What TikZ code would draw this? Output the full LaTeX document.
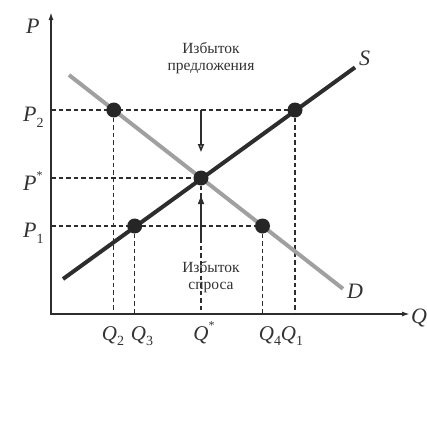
\documentclass[tikz,border=0pt]{standalone}
\usepackage{fontspec}
\setmainfont{Liberation Serif}
\usetikzlibrary{arrows.meta}
\definecolor{ink}{RGB}{45,45,45}
\definecolor{dcol}{RGB}{160,160,160}
\definecolor{dotcol}{RGB}{38,38,38}
\definecolor{txt}{RGB}{50,50,50}
\newcommand\lowidx[1]{\raisebox{-0.28em}{\fontsize{14}{14}\selectfont\upshape #1}}
\newcommand\highidx{\raisebox{0.5em}{\fontsize{12}{12}\selectfont\upshape *}}
\begin{document}
\begin{tikzpicture}[x=1pt,y=-1pt,
  axisline/.style={draw=ink,line width=1.8pt,line join=miter},
  guide/.style={draw=ink,line width=1.2pt,dash pattern=on 4.5pt off 3pt},
  curveS/.style={draw=ink,line width=4pt},
  curveD/.style={draw=dcol,line width=4pt},
  dotnode/.style={circle,fill=dotcol,minimum size=15pt,inner sep=0pt},
  lbl/.style={font=\fontsize{22}{22}\selectfont\itshape,text=txt,inner sep=0pt,anchor=base west},
  qlbl/.style={font=\fontsize{21}{21}\selectfont\itshape,text=txt,inner sep=0pt,anchor=base},
  note/.style={font=\fontsize{15.5}{17.5}\selectfont,align=center,text=txt,inner sep=0pt},
  shiftarrow/.style={draw=ink,line width=1.6pt,-{Triangle[open,length=8pt,width=6pt]}}]
\useasboundingbox (0,0) rectangle (427,440);
% key coordinates
\coordinate (O) at (51,314);
\coordinate (ytip) at (51,12);
\coordinate (xtip) at (410,314);
\coordinate (sA) at (63,279);
\coordinate (sB) at (355,67.4);
\coordinate (dA) at (69,75);
\coordinate (dB) at (343,288.8);
\coordinate (yP2) at (51,110);
\coordinate (yPe) at (51,178);
\coordinate (yP1) at (51,226);
\coordinate (xQ2) at (113.8,314);
\coordinate (xQ3) at (134.7,314);
\coordinate (xQe) at (201,314);
\coordinate (xQ4) at (262.5,314);
\coordinate (xQ1) at (295,314);
\coordinate (arrAstart) at (201,110);
\coordinate (arrAend) at (201,152);
\coordinate (arrBstart) at (201,241);
\coordinate (arrBend) at (201,196);
% dots (positions)
\path (113.8,110) coordinate (q2p) (295,110) coordinate (q1p)
      (134.7,226) coordinate (q3p) (262.5,226) coordinate (q4p)
      (201,178) coordinate (ep);
% guides
\draw[guide] (yP2) -- (q1p);
\draw[guide] (yPe) -- (ep);
\draw[guide] (yP1) -- (q4p);
\draw[guide] (q2p) -- (xQ2);
\draw[guide] (q3p) -- (xQ3);
\draw[guide] (ep) -- (xQe);
\draw[guide] (q4p) -- (xQ4);
\draw[guide] (q1p) -- (xQ1);
% axes
\draw[axisline,{Latex[length=8pt,width=5pt]}-{Latex[length=8pt,width=5pt]}] (ytip) -- (O) -- (xtip);
% curves
\draw[curveD] (dA) -- (dB);
\draw[curveS] (sA) -- (sB);
% dots
\node[dotnode] (q2dot) at (q2p) {};
\node[dotnode] (q1dot) at (q1p) {};
\node[dotnode] (q3dot) at (q3p) {};
\node[dotnode] (q4dot) at (q4p) {};
\node[dotnode] (edot) at (ep) {};
% shift arrows
\draw[shiftarrow] (arrAstart) -- (arrAend);
\draw[shiftarrow] (arrBstart) -- (arrBend);
% notes
\node[note] (surplus) at (211,58) {Избыток\\предложения};
\node[note] (shortage) at (211,277) {Избыток\\спроса};
% axis and curve labels
\node[lbl] (Plab) at (26,33) {P};
\node[lbl] (Slab) at (359,65) {S};
\node[lbl] (Dlab) at (347,298) {D};
\node[lbl] (Qlab) at (411,323) {Q};
\node[lbl] (P2lab) at (23,121) {P\lowidx{2}};
\node[lbl] (Pelab) at (23,190) {P\highidx};
\node[lbl] (P1lab) at (23,237) {P\lowidx{1}};
\node[qlbl] (Q2lab) at (113,340) {Q\lowidx{2}};
\node[qlbl] (Q3lab) at (142,340) {Q\lowidx{3}};
\node[qlbl] (Qelab) at (204,340) {Q\highidx};
\node[qlbl] (Q4lab) at (270,340) {Q\lowidx{4}};
\node[qlbl] (Q1lab) at (292,340) {Q\lowidx{1}};
\end{tikzpicture}
\end{document}
